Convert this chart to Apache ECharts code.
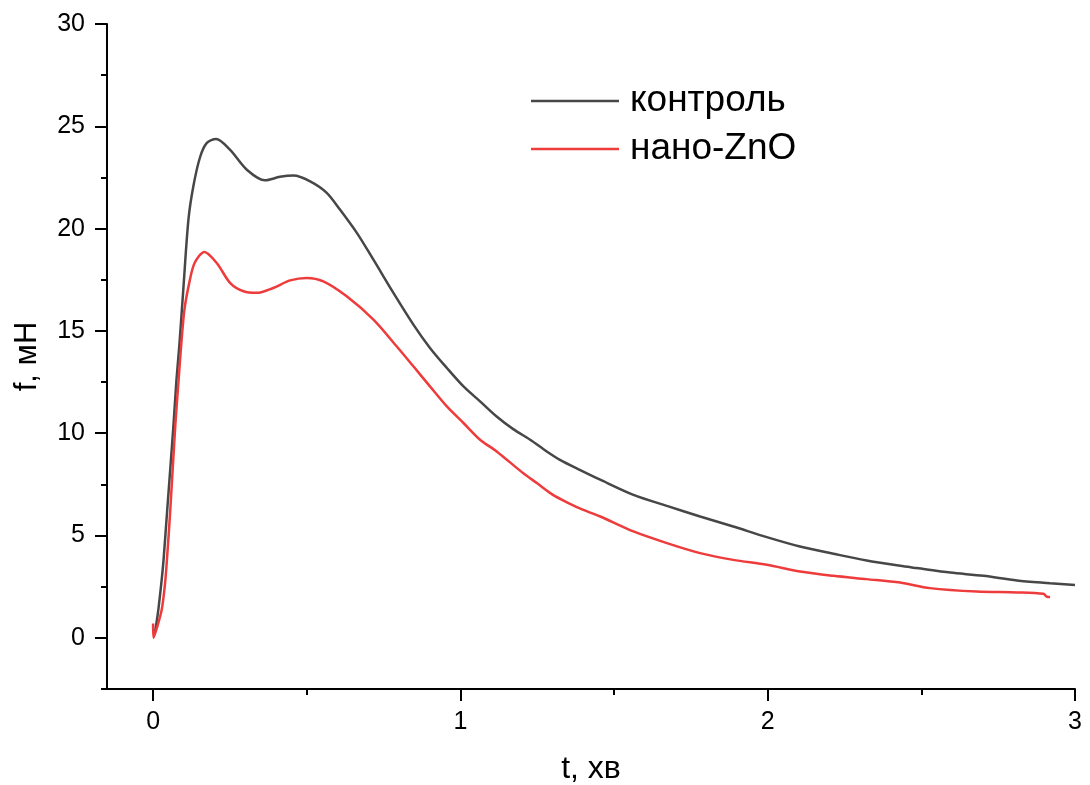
<!DOCTYPE html>
<html>
<head>
<meta charset="utf-8">
<script src="https://cdn.jsdelivr.net/npm/echarts@6/dist/echarts.min.js"></script>
<style>
  html, body { margin: 0; padding: 0; background: #fff; }
  #chart { width: 1090px; height: 785px; }
</style>
</head>
<body>
<div id="chart"></div>
<script>
// контроль
var controlT = [0.0065, 0.017, 0.028, 0.034, 0.046, 0.066, 0.076, 0.086, 0.099, 0.115, 0.131, 0.153, 0.175, 0.205,
  0.25, 0.305, 0.364, 0.413, 0.457, 0.511, 0.565, 0.608, 0.663, 0.717, 0.782, 0.847, 0.901, 0.956, 1.01,
  1.064, 1.118, 1.172, 1.227, 1.281, 1.324, 1.39, 1.455, 1.563, 1.672, 1.78, 1.888, 1.997, 2.105, 2.214,
  2.322, 2.431, 2.485, 2.594, 2.702, 2.811, 2.919, 3.0]
var controlF = [0.3, 1.37, 2.84, 3.81, 6.26, 10.33, 12.6, 14.41, 17.18, 20.44, 22.07, 23.5, 24.19, 24.38,
  23.86, 22.88, 22.36, 22.53, 22.59, 22.31, 21.75, 20.93, 19.79, 18.48, 16.86, 15.31, 14.17, 13.19, 12.29,
  11.56, 10.82, 10.2, 9.68, 9.11, 8.7, 8.2, 7.73, 6.99, 6.45, 5.93, 5.44, 4.92, 4.46, 4.11,
  3.78, 3.52, 3.41, 3.19, 3.03, 2.8, 2.67, 2.58]

// нано-ZnO
var znoT = [0.0, 0.0015, 0.012, 0.028, 0.039, 0.045, 0.056, 0.072, 0.083, 0.092, 0.102, 0.117, 0.135, 0.167,
  0.207, 0.251, 0.294, 0.337, 0.391, 0.446, 0.5, 0.554, 0.63, 0.717, 0.793, 0.847, 0.901, 0.956, 1.01,
  1.064, 1.118, 1.2, 1.25, 1.3, 1.35, 1.4, 1.455, 1.563, 1.672, 1.78, 1.888, 1.997, 2.105, 2.214,
  2.322, 2.431, 2.528, 2.68, 2.811, 2.897, 2.908, 2.919]
var znoF = [0.7, 0.0, 0.47, 1.37, 2.67, 3.81, 6.26, 10.33, 12.6, 14.41, 16.04, 17.3, 18.32, 18.86,
  18.32, 17.34, 16.94, 16.86, 17.1, 17.47, 17.59, 17.42, 16.69, 15.55, 14.24, 13.27, 12.29, 11.31, 10.5,
  9.68, 9.11, 8.1, 7.55, 7.0, 6.6, 6.25, 5.93, 5.2, 4.63, 4.14, 3.81, 3.57, 3.24, 3.03,
  2.87, 2.7, 2.43, 2.26, 2.22, 2.15, 2.02, 1.99]

var xMajor = [0, 1, 2, 3]
var xMinor = [0.5, 1.5, 2.5]
var yMajor = [0, 5, 10, 15, 20, 25, 30]
var yMinor = [-2.5, 2.5, 7.5, 12.5, 17.5, 22.5, 27.5]

function pairs(t, f) {
  return t.map(function (v, i) { return [v, f[i]] })
}

var font = 'Liberation Sans, Arial, sans-serif'
var chart = echarts.init(document.getElementById('chart'))

chart.setOption({
  animation: false,
  backgroundColor: '#fff',
  textStyle: { fontFamily: font, color: '#000' },
  grid: { left: 107, right: 15, top: 24, bottom: 96, outerBoundsMode: 'none', containLabel: false },
  legend: {
    orient: 'vertical',
    left: 526,
    top: 76,
    icon: 'rect',
    itemWidth: 88,
    itemHeight: 2.5,
    itemGap: 8,
    textStyle: { fontFamily: font, fontSize: 37, color: '#000', lineHeight: 40, padding: [0, 0, 0, 6] },
    data: ['контроль', 'нано-ZnO']
  },
  xAxis: [{
    type: 'value',
    min: -0.15,
    max: 3,
    name: 't, хв',
    nameLocation: 'middle',
    nameGap: 64,
    nameTextStyle: { fontFamily: font, fontSize: 32, color: '#000' },
    axisLine: { onZero: false, lineStyle: { color: '#000', width: 2 } },
    axisTick: { customValues: xMajor, length: 12, lineStyle: { color: '#000', width: 2 } },
    axisLabel: { customValues: xMajor, margin: 21, fontFamily: font, fontSize: 25, color: '#000' },
    splitLine: { show: false }
  }, {
    type: 'value',
    position: 'bottom',
    min: -0.15,
    max: 3,
    axisLine: { show: false, onZero: false },
    axisTick: { customValues: xMinor, length: 6, lineStyle: { color: '#000', width: 2 } },
    axisLabel: { show: false },
    splitLine: { show: false }
  }],
  yAxis: [{
    type: 'value',
    min: -2.5,
    max: 30,
    name: 'f, мН',
    nameLocation: 'middle',
    nameRotate: 90,
    nameGap: 64,
    nameTextStyle: { fontFamily: font, fontSize: 31, color: '#000' },
    axisLine: { show: true, onZero: false, lineStyle: { color: '#000', width: 2 } },
    axisTick: { show: true, customValues: yMajor, length: 12, lineStyle: { color: '#000', width: 2 } },
    axisLabel: { customValues: yMajor, margin: 22, fontFamily: font, fontSize: 25, color: '#000' },
    splitLine: { show: false }
  }, {
    type: 'value',
    position: 'left',
    min: -2.5,
    max: 30,
    axisLine: { show: false, onZero: false },
    axisTick: { show: true, customValues: yMinor, length: 6, lineStyle: { color: '#000', width: 2 } },
    axisLabel: { show: false },
    splitLine: { show: false }
  }],
  series: [{
    name: 'контроль',
    type: 'line',
    smooth: 0.3,
    symbol: 'none',
    color: '#474747',
    lineStyle: { color: '#474747', width: 2.5 },
    data: pairs(controlT, controlF)
  }, {
    name: 'нано-ZnO',
    type: 'line',
    smooth: 0.3,
    symbol: 'none',
    color: '#ee3b3b',
    lineStyle: { color: '#ee3b3b', width: 2.5 },
    data: pairs(znoT, znoF)
  }]
})
</script>
</body>
</html>
